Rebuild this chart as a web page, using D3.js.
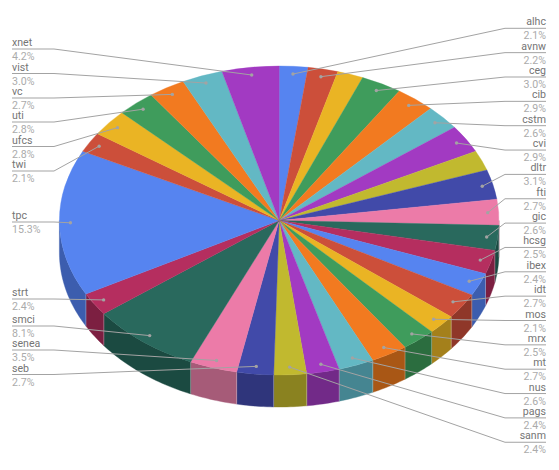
<!DOCTYPE html>
<html><head><meta charset="utf-8">
<script src="https://cdn.jsdelivr.net/npm/d3@7/dist/d3.min.js"></script>
<style>html,body{margin:0;padding:0;background:#fff}svg{display:block}text{font-family:Roboto,sans-serif}</style>
</head><body><div id="c"></div>
<script>
// Unnamed entries are the two slices the reference leaves unlabelled.
const categories = ["alhc","avnw","","ceg","cib","cstm","cvi","","dltr","fti","gic","hcsg","ibex","idt","mos","mrx","mt","nus","pags","sanm","seb","senea","smci","strt","tpc","twi","ufcs","uti","vc","vist","xnet"];
const shares = [2.1,2.2,1.9,3.0,2.9,2.6,2.9,2.1,3.1,2.7,2.6,2.5,2.4,2.7,2.1,2.5,2.7,2.6,2.4,2.4,2.7,3.5,8.1,2.4,15.3,2.1,2.8,2.8,2.7,3.0,4.2];
const palette = ["#5684f0","#cc4f3a","#eab424","#3f9c5c","#f27a20","#63b8c4","#a23ac2","#c1b92f","#414aa9","#ec7ba8","#29695d","#b52e5f"];
const sidePalette = ["#3c5dae","#8f3729","#a4801b","#2b6d3f","#a95715","#458591","#722a88","#8a8220","#2f357b","#a65b78","#1b4a41","#7c1f41"];
const leftRows = {xnet:49,vist:73.5,vc:98,uti:122,ufcs:146.5,twi:171,tpc:222,strt:299,smci:326,senea:350,seb:374.5};
const rightRows = ["alhc","avnw","ceg","cib","cstm","cvi","dltr","fti","gic","hcsg","ibex","idt","mos","mrx","mt","nus","pags","sanm"];

const W=559,H=470,cx=279.2,cy=220.5,rx=219.8,ry=154.5,depth=32;
const svg=d3.select("#c").append("svg").attr("width",W).attr("height",H);
const px=d3.scaleLinear().domain([-1,1]).range([cx-rx,cx+rx]);
const py=d3.scaleLinear().domain([-1,1]).range([cy-ry,cy+ry]);
const X=a=>px(Math.sin(a)), Y=a=>py(-Math.cos(a));
const slices=d3.pie().sort(null).value((d,i)=>shares[i])(categories);
const colorOf=d3.scaleOrdinal().domain(d3.range(palette.length)).range(palette);
const sideOf=d3.scaleOrdinal().domain(d3.range(palette.length)).range(sidePalette);

// rim: only the front half of the ellipse shows
const rim=svg.append("g");
slices.forEach((s,i)=>{
  const a0=Math.max(s.startAngle,Math.PI/2),a1=Math.min(s.endAngle,Math.PI*1.5);
  if(a1<=a0)return;
  const n=Math.max(2,Math.ceil((a1-a0)*60));
  const angles=d3.range(n+1).map(k=>a0+(a1-a0)*k/n);
  const pts=angles.map(a=>[X(a),Y(a)]).concat(angles.slice().reverse().map(a=>[X(a),Y(a)+depth]));
  rim.append("path").attr("d",d3.line()(pts)+"Z").attr("fill",sideOf(i%12)).attr("stroke",sideOf(i%12)).attr("stroke-width",.4);
  if(s.startAngle>=Math.PI/2&&s.startAngle<=Math.PI*1.5)
    rim.append("line").attr("x1",X(a0)).attr("x2",X(a0)).attr("y1",Y(a0)).attr("y2",Y(a0)+depth).attr("stroke","#fff").attr("stroke-opacity",.35).attr("stroke-width",.8);
});

// top face
const arc=d3.arc().innerRadius(0).outerRadius(ry);
const face=svg.append("g").attr("transform",`translate(${cx},${cy}) scale(${rx/ry},1)`);
face.selectAll("path").data(slices).join("path").attr("d",arc).attr("fill",(d,i)=>colorOf(i%12)).attr("stroke",(d,i)=>colorOf(i%12)).attr("stroke-width",.3);

// leaders and labels
const grey="#a3a3a3";
const g=svg.append("g");
slices.forEach((s,i)=>{
  const name=categories[i]; if(!name)return;
  const mid=(s.startAngle+s.endAngle)/2, f=.95;
  const dx=px(Math.sin(mid)*f), dy=py(-Math.cos(mid)*f);
  const isLeft=name in leftRows;
  const y=isLeft?leftRows[name]:28.3+24.35*rightRows.indexOf(name);
  const ex=isLeft?54:505, end=isLeft?12:546;
  g.append("path").attr("d",d3.line()([[dx,dy],[ex,y],[end,y]])).attr("fill","none").attr("stroke",grey).attr("stroke-width",1);
  g.append("circle").attr("cx",dx).attr("cy",dy).attr("r",1.7).attr("fill",grey);
  const anchor=isLeft?"start":"end";
  g.append("text").attr("x",end).attr("y",y-3).attr("text-anchor",anchor).attr("font-size",10.6).attr("fill","#757575").text(name);
  g.append("text").attr("x",end).attr("y",y+11).attr("text-anchor",anchor).attr("font-size",10.6).attr("fill","#ababab").text(d3.format(".1f")(shares[i])+"%");
});
</script></body></html>
